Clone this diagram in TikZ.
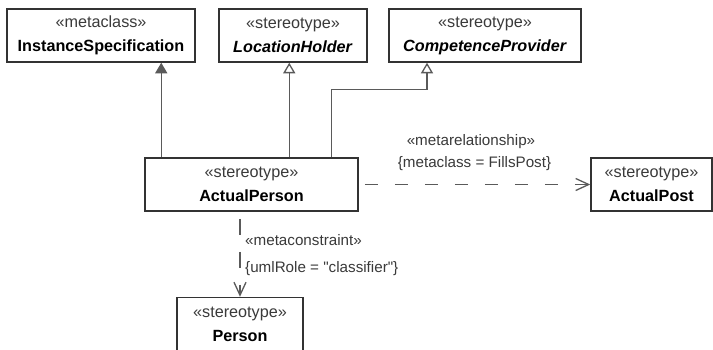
\documentclass[tikz,border=0pt]{standalone}
\usepackage{fontspec}
\setmainfont{Liberation Sans}
% same face without TeX input mapping, so that " stays a straight quote
\newfontfamily\plainsans{Liberation Sans}
\usetikzlibrary{arrows.meta}
\definecolor{boxline}{HTML}{333333}
\definecolor{wire}{HTML}{5A5A5A}
\definecolor{stereo}{HTML}{3A3A3A}
\begin{document}
\begin{tikzpicture}[x=1pt,y=-1pt,
  umlbox/.style={draw=boxline,line width=1.5pt,fill=white,inner sep=0pt,
    align=center,font=\fontsize{16.2}{24}\selectfont,minimum height=53pt},
  conn/.style={draw=wire,line width=1.3pt},
  realize/.style={conn,-{Triangle[width=12pt,length=10.5pt]}},
  gen/.style={conn,-{Triangle[open,width=12pt,length=10.5pt,fill=white]}},
  dep/.style={conn,-{Straight Barb[length=13pt,width=12pt,line width=1.3pt]}},
  lbl/.style={inner sep=0pt,font=\plainsans\fontsize{15.2}{17}\selectfont,text=stereo}]
\useasboundingbox[fill=white] (0,0) rectangle (713,349);

% classes
\node[umlbox,minimum width=188pt] (is) at (101,35.5)
  {{\color{stereo}«metaclass»}\\\textbf{InstanceSpecification}};
\node[umlbox,minimum width=148pt] (lh) at (293,35.5)
  {{\color{stereo}«stereotype»}\\\textbf{\itshape LocationHolder}};
\node[umlbox,minimum width=192pt] (cp) at (485,35.5)
  {{\color{stereo}«stereotype»}\\\textbf{\itshape CompetenceProvider}};
\node[umlbox,minimum width=213pt] (ap) at (251.5,184.5)
  {{\color{stereo}«stereotype»}\\\textbf{ActualPerson}};
\node[umlbox,minimum width=121pt] (post) at (651.5,184.5)
  {{\color{stereo}«stereotype»}\\\textbf{ActualPost}};
\node[umlbox,minimum width=126pt] (person) at (240,324)
  {{\color{stereo}«stereotype»}\\\textbf{Person}};

% generalisations and realisation
\draw[realize] ([xshift=17pt]ap.north west) -- ([xshift=17pt]ap.north west |- is.south);
\draw[gen] ([xshift=145pt]ap.north west) -- ([xshift=145pt]ap.north west |- lh.south);
\draw[gen] ([xshift=187pt]ap.north west) |- ([xshift=-58pt,yshift=-27pt]cp.south)
  -- ([xshift=-58pt]cp.south);

% dependencies
\draw[dep,dash pattern=on 13pt off 17pt,dash phase=24pt] (ap.east) -- (post.west);
\draw[dep,dash pattern=on 16pt off 17pt,dash phase=26pt] (ap.south -| person.north) -- (person.north);

% labels
\node[lbl] (mrel) at (471,142) {«metarelationship»};
\node[lbl] (mcls) at (474.5,164) {\{metaclass = FillsPost\}};
\node[lbl,anchor=west] (mcon) at (245,240) {«metaconstraint»};
\node[lbl,anchor=west] (mrole) at (245,269) {\{umlRole = "classifier"\}};
\end{tikzpicture}
\end{document}
